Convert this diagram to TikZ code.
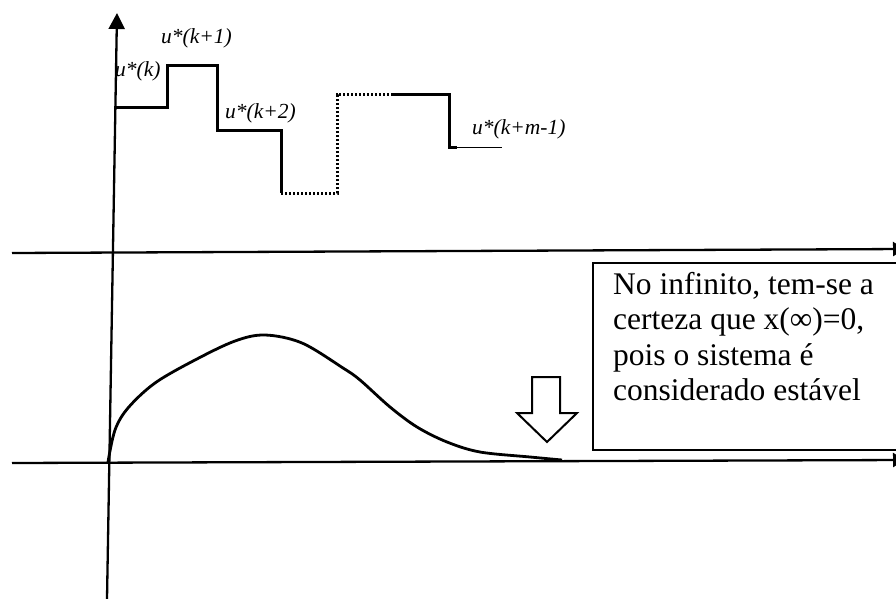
\documentclass[tikz,border=0pt]{standalone}
\usepackage{fontspec}
\setmainfont{Liberation Serif}
\usetikzlibrary{arrows.meta}
\begin{document}
\begin{tikzpicture}[x=1pt,y=-1pt,
  axis/.style={line width=2.3pt},
  stair/.style={line width=3pt},
  stairdot/.style={line width=3pt,dash pattern=on 2.2pt off 1.8pt},
  lbl/.style={inner sep=0pt,anchor=base west,font=\fontsize{21.5}{24}\selectfont\itshape},
  boxtxt/.style={inner sep=0pt,anchor=base west,font=\fontsize{31.5}{35}\selectfont}]
\useasboundingbox (0,0) rectangle (896,599);
% axes
\coordinate (vb) at (107,599);
\coordinate (vt) at (117,13);
\draw[axis,-{Triangle[length=16pt,width=16pt]}] (vb) -- (vt);
\coordinate (ul) at (12,253);
\coordinate (ur) at (905,249);
\draw[axis,-{Triangle[length=12pt,width=14pt]}] (ul) -- (ur);
\coordinate (ll) at (12,463);
\coordinate (lr) at (905,460);
\draw[axis,-{Triangle[length=12pt,width=14pt]}] (ll) -- (lr);
% staircase
\coordinate (s0) at (114,108);
\coordinate (s1) at (167,108);
\coordinate (s2) at (167,66);
\coordinate (s3) at (217,66);
\coordinate (s4) at (217,130);
\coordinate (s5) at (281,130);
\coordinate (s6) at (281,193);
\coordinate (s7) at (337,193);
\coordinate (s8) at (337,95);
\coordinate (s9) at (393,95);
\coordinate (s10) at (449,95);
\coordinate (s11) at (449,147);
\coordinate (s12) at (457,147);
\coordinate (s13) at (502,147);
\draw[stair,line join=miter] (s0) -- (s1) -- (s2) -- (s3) -- (s4) -- (s5) -- (s6);
\draw[stairdot] (s6) -- (s7) -- (s8) -- (s9);
\draw[stair,line join=miter] (s9) -- (s10) -- (s11) -- (s12);
\draw[line width=0.9pt] (s12) -- (s13);
% labels
\node[lbl] (l0) at (115,77) {u*(k)};
\node[lbl] (l1) at (161,44) {u*(k+1)};
\node[lbl] (l2) at (225,118) {u*(k+2)};
\node[lbl] (l3) at (472,134) {u*(k+m-1)};
% response curve
\draw[line width=2.8pt] plot[smooth,tension=0.55] coordinates {
  (108,462) (115,430) (128,408) (155,383) (195,360) (235,341) (265,335)
  (302,343) (343,368) (360,380) (390,407) (417,427) (447,442) (480,452)
  (530,457) (562,460)};
% block arrow
\draw[line width=2pt,line join=miter,fill=white] (532,377) -- (532,413) -- (517,413) -- (547,442)
  -- (577,413) -- (560,413) -- (560,377) -- cycle;
% text box
\draw[line width=2.4pt] (593,263) rectangle (905,450);
\node[boxtxt] (t1) at (613,294) {No infinito, tem-se a};
\node[boxtxt] (t2) at (613,329.5) {certeza que x(\symbol{"221E})=0,};
\node[boxtxt] (t3) at (613,365) {pois o sistema é};
\node[boxtxt] (t4) at (613,400.5) {considerado estável};
\end{tikzpicture}
\end{document}
